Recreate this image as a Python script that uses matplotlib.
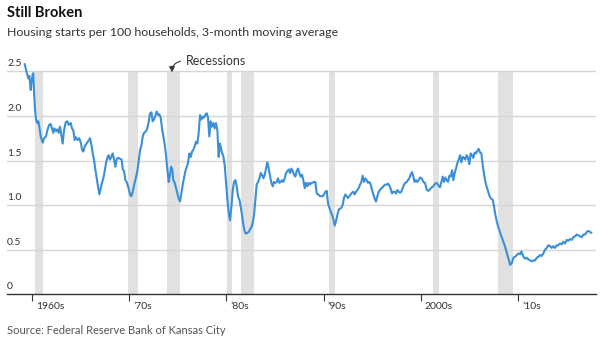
import matplotlib
matplotlib.use("Agg")
import matplotlib.pyplot as plt
import matplotlib.transforms as mtransforms

plt.rcParams['font.family'] = ['Lato', 'DejaVu Sans']

# housing starts per 100 households (decimal year, value)
years = [
    1959.28, 1959.50, 1959.65, 1959.75, 1959.90, 1960.00, 1960.10, 1960.17, 1960.24, 1960.34,
    1960.44, 1960.58, 1960.68, 1960.78, 1960.92, 1961.13, 1961.26, 1961.47, 1961.60, 1961.80,
    1961.95, 1962.09, 1962.22, 1962.32, 1962.50, 1962.63, 1962.77, 1962.91, 1963.04, 1963.18,
    1963.32, 1963.50, 1963.66, 1963.80, 1964.01, 1964.14, 1964.27, 1964.42, 1964.55, 1964.72,
    1964.89, 1965.07, 1965.17, 1965.31, 1965.45, 1965.58, 1965.75, 1965.89, 1965.99, 1966.13,
    1966.27, 1966.40, 1966.54, 1966.68, 1966.81, 1966.95, 1967.09, 1967.22, 1967.36, 1967.50,
    1967.63, 1967.77, 1967.91, 1968.04, 1968.18, 1968.32, 1968.46, 1968.59, 1968.74, 1968.90,
    1969.07, 1969.24, 1969.36, 1969.50, 1969.62, 1969.76, 1969.93, 1970.10, 1970.24, 1970.38,
    1970.51, 1970.69, 1970.85, 1970.99, 1971.13, 1971.26, 1971.41, 1971.54, 1971.75, 1971.88,
    1972.03, 1972.16, 1972.30, 1972.43, 1972.57, 1972.70, 1972.84, 1972.98, 1973.11, 1973.26,
    1973.39, 1973.53, 1973.67, 1973.80, 1973.94, 1974.08, 1974.21, 1974.32, 1974.45, 1974.55,
    1974.70, 1974.83, 1974.97, 1975.11, 1975.24, 1975.38, 1975.52, 1975.65, 1975.79, 1975.93,
    1976.06, 1976.20, 1976.34, 1976.48, 1976.61, 1976.75, 1976.88, 1977.02, 1977.16, 1977.30,
    1977.43, 1977.57, 1977.70, 1977.84, 1977.98, 1978.12, 1978.25, 1978.39, 1978.53, 1978.67,
    1978.80, 1978.94, 1979.08, 1979.21, 1979.35, 1979.52, 1979.69, 1979.83, 1979.97, 1980.11,
    1980.25, 1980.38, 1980.52, 1980.66, 1980.79, 1980.93, 1981.07, 1981.20, 1981.34, 1981.48,
    1981.61, 1981.75, 1981.89, 1982.03, 1982.16, 1982.30, 1982.44, 1982.57, 1982.71, 1982.85,
    1982.98, 1983.12, 1983.26, 1983.40, 1983.53, 1983.67, 1983.81, 1983.95, 1984.08, 1984.21,
    1984.36, 1984.50, 1984.63, 1984.77, 1984.90, 1985.04, 1985.18, 1985.31, 1985.45, 1985.59,
    1985.72, 1985.86, 1986.00, 1986.14, 1986.27, 1986.41, 1986.55, 1986.68, 1986.82, 1986.96,
    1987.09, 1987.23, 1987.37, 1987.50, 1987.64, 1987.78, 1987.91, 1988.06, 1988.19, 1988.33,
    1988.47, 1988.60, 1988.74, 1988.87, 1989.01, 1989.15, 1989.29, 1989.45, 1989.63, 1989.90,
    1990.04, 1990.18, 1990.32, 1990.45, 1990.59, 1990.73, 1990.86, 1991.00, 1991.14, 1991.27,
    1991.41, 1991.55, 1991.69, 1991.82, 1991.96, 1992.09, 1992.23, 1992.37, 1992.50, 1992.64,
    1992.78, 1992.92, 1993.05, 1993.19, 1993.33, 1993.46, 1993.60, 1993.74, 1993.88, 1994.01,
    1994.15, 1994.28, 1994.42, 1994.56, 1994.70, 1994.84, 1994.97, 1995.11, 1995.25, 1995.38,
    1995.52, 1995.66, 1995.80, 1995.93, 1996.07, 1996.21, 1996.34, 1996.48, 1996.62, 1996.76,
    1996.90, 1997.03, 1997.17, 1997.31, 1997.44, 1997.58, 1997.72, 1997.85, 1997.98, 1998.12,
    1998.26, 1998.40, 1998.54, 1998.67, 1998.80, 1998.94, 1999.08, 1999.22, 1999.35, 1999.49,
    1999.62, 1999.76, 1999.90, 2000.08, 2000.25, 2000.42, 2000.60, 2000.77, 2000.94, 2001.11,
    2001.27, 2001.45, 2001.62, 2001.79, 2001.96, 2002.10, 2002.24, 2002.37, 2002.51, 2002.65,
    2002.79, 2002.92, 2003.06, 2003.20, 2003.33, 2003.47, 2003.60, 2003.74, 2003.88, 2004.02,
    2004.15, 2004.29, 2004.43, 2004.56, 2004.70, 2004.84, 2004.97, 2005.11, 2005.25, 2005.38,
    2005.52, 2005.66, 2005.80, 2005.94, 2006.07, 2006.21, 2006.28, 2006.41, 2006.55, 2006.69,
    2006.83, 2006.97, 2007.10, 2007.24, 2007.38, 2007.52, 2007.65, 2007.79, 2007.93, 2008.06,
    2008.20, 2008.33, 2008.47, 2008.60, 2008.74, 2008.88, 2009.02, 2009.16, 2009.33, 2009.50,
    2009.67, 2009.85, 2010.02, 2010.19, 2010.33, 2010.46, 2010.60, 2010.72, 2010.87, 2011.04,
    2011.21, 2011.39, 2011.55, 2011.73, 2011.90, 2012.07, 2012.24, 2012.42, 2012.58, 2012.76,
    2012.93, 2013.10, 2013.27, 2013.44, 2013.61, 2013.78, 2013.95, 2014.12, 2014.29, 2014.47,
    2014.63, 2014.81, 2014.98, 2015.15, 2015.32, 2015.50, 2015.66, 2015.84, 2016.01, 2016.18,
    2016.36, 2016.53, 2016.70, 2016.87, 2017.04, 2017.20, 2017.37, 2017.50,
]
starts = [
    2.58, 2.48, 2.42, 2.45, 2.29, 2.40, 2.47, 2.48, 2.26, 2.07,
    1.96, 1.92, 1.94, 1.88, 1.77, 1.70, 1.75, 1.77, 1.84, 1.90,
    1.91, 1.86, 1.81, 1.86, 1.83, 1.85, 1.81, 1.88, 1.79, 1.69,
    1.84, 1.93, 1.94, 1.90, 1.92, 1.86, 1.84, 1.73, 1.76, 1.73,
    1.75, 1.69, 1.62, 1.60, 1.66, 1.68, 1.71, 1.73, 1.75, 1.68,
    1.58, 1.51, 1.40, 1.30, 1.21, 1.12, 1.19, 1.25, 1.30, 1.38,
    1.47, 1.53, 1.56, 1.51, 1.54, 1.58, 1.51, 1.43, 1.52, 1.53,
    1.52, 1.51, 1.40, 1.38, 1.28, 1.26, 1.20, 1.12, 1.10, 1.15,
    1.22, 1.30, 1.38, 1.49, 1.62, 1.66, 1.77, 1.81, 1.83, 1.86,
    1.94, 2.03, 2.04, 1.94, 1.96, 2.00, 2.05, 2.01, 2.02, 1.98,
    1.86, 1.77, 1.68, 1.56, 1.40, 1.26, 1.34, 1.43, 1.40, 1.28,
    1.25, 1.19, 1.13, 1.07, 1.04, 1.13, 1.23, 1.30, 1.38, 1.43,
    1.47, 1.58, 1.54, 1.60, 1.62, 1.66, 1.71, 1.69, 1.81, 2.01,
    1.96, 1.99, 1.98, 2.01, 2.03, 1.98, 1.77, 1.94, 1.88, 1.92,
    1.86, 1.92, 1.84, 1.54, 1.69, 1.60, 1.55, 1.45, 1.25, 1.06,
    0.91, 0.83, 0.98, 1.17, 1.26, 1.28, 1.21, 1.10, 1.06, 0.98,
    0.89, 0.78, 0.70, 0.68, 0.69, 0.70, 0.73, 0.75, 0.80, 0.89,
    1.06, 1.23, 1.26, 1.30, 1.36, 1.34, 1.30, 1.34, 1.41, 1.48,
    1.41, 1.32, 1.25, 1.21, 1.26, 1.25, 1.26, 1.30, 1.25, 1.26,
    1.28, 1.26, 1.30, 1.36, 1.38, 1.40, 1.36, 1.41, 1.38, 1.34,
    1.32, 1.38, 1.41, 1.36, 1.32, 1.34, 1.28, 1.19, 1.25, 1.21,
    1.25, 1.23, 1.25, 1.25, 1.26, 1.26, 1.13, 1.12, 1.10, 1.10,
    1.12, 1.15, 1.16, 1.02, 0.97, 0.93, 0.89, 0.84, 0.77, 0.82,
    0.89, 0.95, 0.96, 0.97, 1.00, 1.08, 1.12, 1.10, 1.08, 1.10,
    1.12, 1.14, 1.15, 1.12, 1.15, 1.17, 1.19, 1.23, 1.26, 1.33,
    1.26, 1.30, 1.28, 1.25, 1.26, 1.23, 1.17, 1.12, 1.07, 1.04,
    1.10, 1.15, 1.17, 1.19, 1.20, 1.22, 1.23, 1.23, 1.24, 1.22,
    1.18, 1.13, 1.15, 1.15, 1.13, 1.17, 1.15, 1.14, 1.15, 1.19,
    1.23, 1.25, 1.26, 1.28, 1.30, 1.34, 1.37, 1.32, 1.26, 1.28,
    1.26, 1.28, 1.31, 1.30, 1.26, 1.25, 1.17, 1.16, 1.18, 1.20,
    1.21, 1.24, 1.25, 1.22, 1.20, 1.26, 1.32, 1.26, 1.31, 1.28,
    1.26, 1.33, 1.32, 1.39, 1.28, 1.36, 1.41, 1.47, 1.51, 1.56,
    1.48, 1.54, 1.53, 1.51, 1.56, 1.53, 1.46, 1.58, 1.56, 1.53,
    1.59, 1.58, 1.61, 1.63, 1.59, 1.58, 1.51, 1.40, 1.30, 1.23,
    1.18, 1.13, 1.09, 1.07, 1.06, 0.98, 0.89, 0.82, 0.76, 0.72,
    0.67, 0.63, 0.59, 0.55, 0.50, 0.44, 0.39, 0.33, 0.35, 0.41,
    0.42, 0.44, 0.46, 0.45, 0.48, 0.44, 0.41, 0.40, 0.41, 0.39,
    0.38, 0.37, 0.38, 0.38, 0.41, 0.42, 0.44, 0.43, 0.46, 0.50,
    0.52, 0.55, 0.54, 0.52, 0.54, 0.52, 0.55, 0.55, 0.57, 0.56,
    0.59, 0.57, 0.61, 0.60, 0.62, 0.61, 0.64, 0.65, 0.67, 0.66,
    0.65, 0.64, 0.67, 0.67, 0.70, 0.71, 0.70, 0.69,
]

# NBER recessions (start, end)
rec_start = [1960.33, 1969.92, 1973.88, 1980.04, 1981.54, 1990.54, 2001.21, 2007.92]
rec_end = [1961.13, 1970.88, 1975.21, 1980.54, 1982.88, 1991.17, 2001.88, 2009.46]

yticks = [0, 0.5, 1.0, 1.5, 2.0, 2.5]
ytick_labels = ["0", "0.5", "1.0", "1.5", "2.0", "2.5"]
decades = [1960, 1970, 1980, 1990, 2000, 2010]
decade_labels = ["1960s", "\u201970s", "\u201980s", "\u201990s", "2000s", "\u201910s"]

fig = plt.figure(figsize=(6, 3.43), dpi=100)
ax = fig.add_axes([7 / 600, 48.7 / 343, 588.7 / 600, 240.8 / 343])
ax.set_xlim(1957.46, 2017.96)
ax.set_ylim(0, 2.7)

# recession shading
widths = [e - s for s, e in zip(rec_start, rec_end)]
ax.bar(rec_start, [2.5] * len(rec_start), width=widths, align="edge",
       color="#e1e1e1", zorder=1, linewidth=0)

# gridlines
for v in yticks[1:]:
    ax.axhline(v, color="#d6d6d6", lw=1.0, zorder=2)

ax.plot(years, starts, color="#3a8fd8", lw=1.5, zorder=3, solid_joinstyle="round")

# y labels sit above the gridlines on the left
lab_off = mtransforms.offset_copy(ax.get_yaxis_transform(), fig=fig, x=0, y=3, units="dots")
for v, lab in zip(yticks, ytick_labels):
    ax.text(0, v, lab, transform=lab_off, ha="left", va="bottom", fontsize=7.5, color="#333333")
ax.set_yticks([])

for s in ["top", "right", "left"]:
    ax.spines[s].set_visible(False)
ax.spines["bottom"].set_color("#333333")
ax.spines["bottom"].set_linewidth(1.0)

ax.set_xticks(decades)
ax.set_xticklabels(decade_labels, ha="left", fontsize=7.5, color="#333333")
ax.tick_params(axis="x", length=5, width=0.8, color="#333333", pad=0.5)
shift = mtransforms.ScaledTranslation(4 / 100, 0, fig.dpi_scale_trans)
for t in ax.get_xticklabels():
    t.set_transform(t.get_transform() + shift)

ax.annotate("Recessions", xy=(1974.42, 2.49), xytext=(1975.86, 2.62),
            ha="left", va="center", fontsize=9, color="#333333",
            arrowprops=dict(arrowstyle="-|>,head_length=0.35,head_width=0.18",
                            color="#333333", lw=0.8, relpos=(0, 0.5),
                            shrinkA=2, shrinkB=0,
                            connectionstyle="angle3,angleA=0,angleB=90"))

fig.text(7 / 600, 1 - 17 / 343, "Still Broken", fontsize=10.5, fontweight="bold",
         color="#111111", va="baseline", ha="left")
fig.text(7 / 600, 1 - 36 / 343, "Housing starts per 100 households, 3-month moving average",
         fontsize=8.9, color="#333333", va="baseline", ha="left")
fig.text(7 / 600, 1 - 334 / 343, "Source: Federal Reserve Bank of Kansas City",
         fontsize=8, color="#555555", va="baseline", ha="left")

fig.savefig("out.png", dpi=100)
